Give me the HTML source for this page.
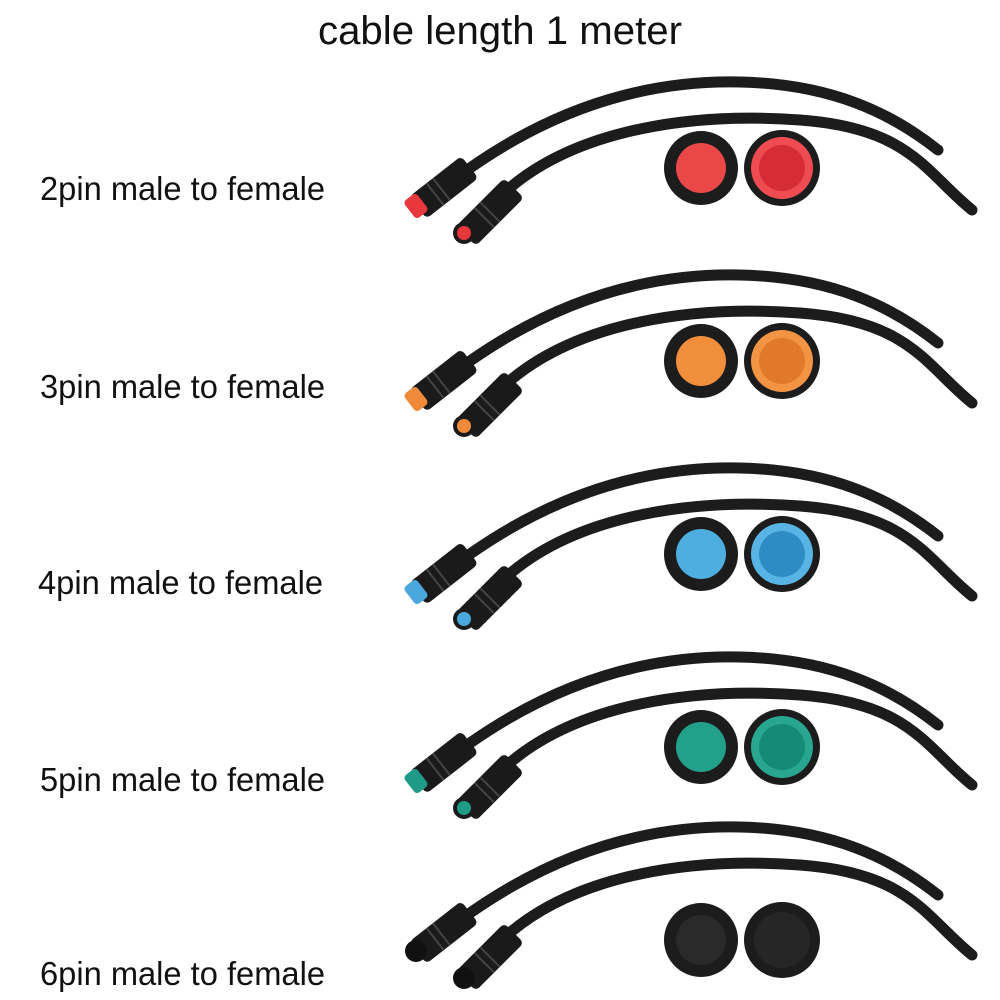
<!DOCTYPE html>
<html><head><meta charset="utf-8"><style>
html,body{margin:0;padding:0;background:#fff;}
svg{display:block}
text{font-family:"Liberation Sans",sans-serif;fill:#111}
</style></head><body>
<svg width="1000" height="1000" viewBox="0 0 1000 1000" xmlns="http://www.w3.org/2000/svg">
<defs>
<g id="cables">
  <path d="M470,168 C560,105 650,80 740,82 S890,112 938,150" fill="none" stroke="#1c1c1c" stroke-width="11" stroke-linecap="round"/>
  <path d="M512,186 C580,130 690,112 800,120 S925,172 972,210" fill="none" stroke="#1c1c1c" stroke-width="11" stroke-linecap="round"/>
  <g transform="translate(443,188) rotate(-38)">
    <rect x="-32" y="-14" width="66" height="28" rx="5" fill="#1a1a1a"/>
    <line x1="-10" y1="-14" x2="-10" y2="14" stroke="#444" stroke-width="2"/>
    <line x1="-2" y1="-14" x2="-2" y2="14" stroke="#444" stroke-width="2"/>
  </g>
  <g transform="translate(490,212) rotate(-45)">
    <rect x="-34" y="-14" width="68" height="28" rx="5" fill="#1a1a1a"/>
    <line x1="-8" y1="-14" x2="-8" y2="14" stroke="#444" stroke-width="2"/>
    <line x1="0" y1="-14" x2="0" y2="14" stroke="#444" stroke-width="2"/>
  </g>
</g>
</defs>

<text x="500" y="44" text-anchor="middle" font-size="40" textLength="364" lengthAdjust="spacingAndGlyphs">cable length 1 meter</text>

<g>
  <use href="#cables"/>
  <g transform="translate(416,206) rotate(-38)"><rect x="-8" y="-11" width="16" height="22" rx="4" fill="#e8383d"/></g>
  <circle cx="464" cy="233" r="11" fill="#1a1a1a"/><circle cx="464" cy="233" r="7" fill="#e8383d"/>
  <circle cx="701" cy="168" r="37" fill="#1c1c1c"/><circle cx="701" cy="168" r="25" fill="#ea4848"/>
  <circle cx="782" cy="168" r="38" fill="#1c1c1c"/><circle cx="782" cy="168" r="31" fill="#ee4c50"/><circle cx="782" cy="168" r="23" fill="#d62c33"/>
  <text x="40" y="200" font-size="33" textLength="285" lengthAdjust="spacingAndGlyphs">2pin male to female</text>
</g>
<g transform="translate(0,193)">
  <use href="#cables"/>
  <g transform="translate(416,206) rotate(-38)"><rect x="-8" y="-11" width="16" height="22" rx="4" fill="#ef8a3a"/></g>
  <circle cx="464" cy="233" r="11" fill="#1a1a1a"/><circle cx="464" cy="233" r="7" fill="#ef8a3a"/>
  <circle cx="701" cy="168" r="37" fill="#1c1c1c"/><circle cx="701" cy="168" r="25" fill="#f08e3c"/>
  <circle cx="782" cy="168" r="38" fill="#1c1c1c"/><circle cx="782" cy="168" r="31" fill="#f29443"/><circle cx="782" cy="168" r="23" fill="#e07a2a"/>
  <text x="40" y="205" font-size="33" textLength="285" lengthAdjust="spacingAndGlyphs">3pin male to female</text>
</g>
<g transform="translate(0,386)">
  <use href="#cables"/>
  <g transform="translate(416,206) rotate(-38)"><rect x="-8" y="-11" width="16" height="22" rx="4" fill="#4aa8dc"/></g>
  <circle cx="464" cy="233" r="11" fill="#1a1a1a"/><circle cx="464" cy="233" r="7" fill="#4aa8dc"/>
  <circle cx="701" cy="168" r="37" fill="#1c1c1c"/><circle cx="701" cy="168" r="25" fill="#4eaee0"/>
  <circle cx="782" cy="168" r="38" fill="#1c1c1c"/><circle cx="782" cy="168" r="31" fill="#58b4e4"/><circle cx="782" cy="168" r="23" fill="#2e8cc4"/>
  <text x="38" y="208" font-size="33" textLength="285" lengthAdjust="spacingAndGlyphs">4pin male to female</text>
</g>
<g transform="translate(0,575)">
  <use href="#cables"/>
  <g transform="translate(416,206) rotate(-38)"><rect x="-8" y="-11" width="16" height="22" rx="4" fill="#1f9a86"/></g>
  <circle cx="464" cy="233" r="11" fill="#1a1a1a"/><circle cx="464" cy="233" r="7" fill="#1f9a86"/>
</g>
<g transform="translate(0,579)">
  <circle cx="701" cy="168" r="37" fill="#1c1c1c"/><circle cx="701" cy="168" r="25" fill="#22a08a"/>
  <circle cx="782" cy="168" r="38" fill="#1c1c1c"/><circle cx="782" cy="168" r="31" fill="#28a690"/><circle cx="782" cy="168" r="23" fill="#158a76"/>
  <text x="40" y="212" font-size="33" textLength="285" lengthAdjust="spacingAndGlyphs">5pin male to female</text>
</g>
<g transform="translate(0,745)">
  <use href="#cables"/>
  <circle cx="416" cy="206" r="11" fill="#111"/>
  <circle cx="464" cy="233" r="11" fill="#111"/>
</g>
<g transform="translate(0,772)">
  <circle cx="701" cy="168" r="37" fill="#1c1c1c"/><circle cx="701" cy="168" r="25" fill="#2a2a2a"/>
  <circle cx="782" cy="168" r="38" fill="#1c1c1c"/><circle cx="782" cy="168" r="28" fill="#262626"/>
  <text x="40" y="213" font-size="33" textLength="285" lengthAdjust="spacingAndGlyphs">6pin male to female</text>
</g>
</svg>
</body></html>
